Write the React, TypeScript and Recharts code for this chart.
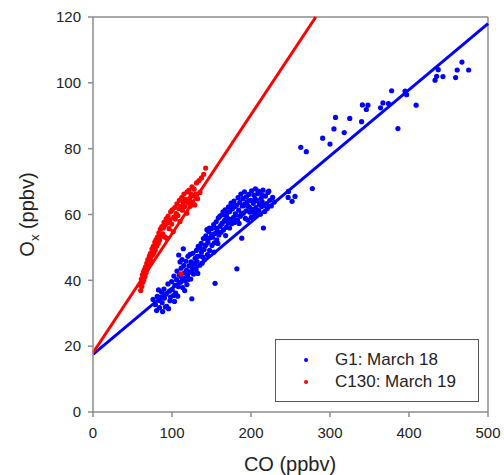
import React from 'react';
import { ScatterChart, Scatter, XAxis, YAxis, ReferenceLine, Legend, Label } from 'recharts';

// CO (ppbv), Ox (ppbv) pairs
const g1Points: [number, number][] = [
  [76, 34.2], [79, 32.6], [80.5, 30.8], [81.3, 35.1], [83.7, 33.9], [84.2, 31.7], [86.9, 36.4], [87.5, 33.2], [88.1, 30.5], [89.8, 37.3],
  [90.4, 34.6], [92.7, 35.8], [93.3, 32.1], [94.9, 38.9], [95.6, 31.4], [96.8, 36.7], [98.2, 34.9], [99.5, 39.6], [100.3, 37.2], [101.9, 35.4],
  [102.4, 41.3], [103.8, 38.5], [104.6, 36.1], [105.7, 40.2], [106.3, 42.8], [107.9, 38.1], [108.5, 47.7], [109.2, 41.6], [110.8, 39.4], [111.6, 43.7],
  [112.1, 40.9], [113.4, 37.8], [114.3, 49.6], [114.9, 44.5], [115.7, 42.2], [116.5, 39.9], [117.8, 45.8], [118.4, 43.1], [119.6, 41.5], [120.2, 47.3],
  [121.5, 44.4], [122.9, 47.9], [122.3, 42.6], [123.7, 40.4], [124.2, 45.6], [125.1, 34.4], [125.8, 43.8], [126.4, 48.2], [127.3, 41.9], [128.8, 44.9],
  [129.2, 46.7], [130.5, 43.3], [130.9, 49.1], [131.8, 45.7], [132.6, 42.1], [133.2, 50.3], [134.7, 47.4], [135.3, 44.6], [136.9, 51.2], [137.4, 48.6],
  [138.1, 45.2], [139.7, 52.7], [140.6, 49.4], [141.2, 46.3], [142.8, 53.5], [143.1, 50.8], [144.2, 55.4], [144.9, 47.8], [145.5, 51.6], [146.3, 54.8],
  [147.7, 49.1], [148.4, 52.9], [149.9, 55.7], [150.5, 50.6], [151.3, 53.1], [152.8, 56.9], [153.6, 51.4], [154.1, 54.2], [154.5, 39.1], [155.9, 57.8],
  [156.7, 52.3], [157.2, 55.1], [158.6, 58.9], [159.3, 53.8], [160.8, 56.4], [161.4, 59.7], [162.2, 54.6], [163.9, 57.5], [164.5, 60.8], [165.1, 55.3],
  [166.6, 58.2], [167.3, 61.4], [168.7, 56.1], [169.2, 59.3], [170.8, 57.4], [171.5, 62.3], [172.4, 58.6], [173.1, 60.9], [174.7, 63.5], [175.6, 57.2],
  [176.3, 61.7], [177.9, 59.1], [178.4, 64.1], [179.7, 62.4], [180.2, 60.2], [181.5, 62.8], [182.1, 43.5], [182.9, 58.4], [183.6, 65.1], [184.4, 61.3],
  [185.8, 63.7], [186.5, 59.5], [187.2, 66.2], [188.3, 52.8], [188.9, 62.6], [189.6, 64.8], [190.3, 60.4], [191.7, 66.9], [192.4, 63.2], [193.8, 61.1],
  [194.2, 65.4], [195.9, 58.3], [196.6, 62.5], [197.1, 66.1], [198.7, 60.7], [199.4, 64.3], [200.8, 67.2], [201.2, 61.6], [202.9, 63.4], [203.5, 65.9],
  [204.3, 59.6], [205.6, 67.8], [206.2, 62.1], [207.7, 64.2], [208.4, 66.3], [209.9, 61.2], [210.6, 63.1], [211.3, 66.8], [212.8, 64.9], [213.5, 62.4],
  [214.1, 63.9], [215.7, 55.9], [215.2, 67.4], [216.6, 62.8], [218.3, 65.6], [219.9, 63.3], [221.4, 66.7], [222.5, 67.1], [223.8, 64.3], [225.7, 62.6],
  [227.4, 65.2], [229.6, 63.8], [118.9, 38.7], [121.1, 40.3], [126.9, 45.1], [132.1, 47.3], [135.8, 49.8], [138.9, 47.1], [141.8, 50.5], [145.1, 52.4],
  [147.3, 55.9], [150.1, 53.9], [153.2, 48.6], [156.1, 55.8], [158.1, 51.2], [160.2, 59.4], [162.9, 57.1], [165.8, 59.9], [167.9, 53.6], [170.1, 60.6],
  [172.9, 55.9], [174.2, 58.1], [176.8, 62.9], [179.1, 57.6], [181.1, 59.9], [184.9, 57.3], [187.8, 60.1], [190.9, 62.7], [192.9, 58.8], [195.3, 63.9],
  [198.1, 62.2], [200.3, 59.1], [203.1, 60.8], [205.1, 64.8], [207.2, 60.6], [209.2, 67.1], [211.9, 60.1], [214.8, 65.8], [217.4, 60.9], [220.6, 61.8],
  [82.9, 37.1], [85.6, 34.8], [91.6, 31.9], [97.4, 33.8], [103.1, 33.6], [107.2, 35.2], [110.2, 45.6], [116.1, 36.9], [112.7, 46.3],
  [247, 65.2], [247.5, 67], [252, 64], [255.7, 65.5], [263, 80.4], [270, 79.1], [277.6, 67.9], [290.7, 83.2], [300, 81.4], [305, 86],
  [307, 89.5], [318, 84.9], [325, 89.2], [340, 88.2], [341, 93.3], [346, 91.9], [348, 93.2], [364, 92.4], [367, 93.9], [374, 93.7],
  [378, 97.6], [386, 86.1], [395, 97.5], [397, 96.4], [409, 93.2], [433, 100.8], [435, 102], [437, 104], [443, 101.9], [459, 101.6],
  [461, 103.9], [467, 106.3], [475.5, 103.9],
];

const c130Points: [number, number][] = [
  [59.6, 38.6], [60.3, 36.9], [61.2, 40.4], [61.8, 38.1], [62.5, 41.7], [63.1, 39.4], [63.9, 42.6], [64.4, 40.1], [65.2, 43.3], [65.8, 41.2],
  [66.5, 44.1], [67.3, 42.4], [68.1, 45.2], [68.6, 43.5], [69.4, 46.3], [70.2, 44.7], [71.3, 47.4], [71.9, 45.3], [72.8, 48.2], [73.5, 46.1],
  [74.6, 49.5], [75.3, 47.6], [76.2, 50.3], [77.1, 48.4], [78.3, 51.6], [78.9, 49.2], [79.8, 52.3], [80.7, 50.4], [81.6, 53.1], [82.5, 51.3],
  [83.4, 54.4], [84.1, 52.2], [85.2, 55.6], [86.3, 53.4], [87.1, 56.3], [88.2, 54.1], [89.1, 55.9], [89.9, 57.6], [90.8, 53.2], [91.5, 56.8],
  [92.6, 58.7], [93.3, 52.8], [94.2, 57.4], [95.1, 59.5], [96.4, 55.7], [97.5, 58.4], [98.3, 60.8], [99.6, 57.1], [100.4, 61.4], [101.6, 54.8],
  [102.2, 59.2], [103.5, 62.1], [104.1, 58.6], [105.3, 60.3], [106.2, 63.2], [107.4, 59.7], [108.6, 61.8], [109.3, 64.3], [110.1, 57.9], [110.9, 62.5],
  [111.2, 42.0], [112.3, 65.1], [113.2, 61.3], [114.4, 63.7], [115.1, 66.2], [116.3, 62.4], [117.2, 64.6], [118.6, 60.4], [119.1, 66.9], [120.6, 63.6],
  [121.3, 67.3], [122.4, 64.9], [123.1, 62.5], [124.2, 66.1], [125.3, 68.4], [126.1, 63.8], [127.2, 65.7], [127.9, 67.7], [128.8, 62.9], [130.2, 66.2],
  [131, 69.6], [132.3, 64.8], [134.1, 70.3], [135.4, 66.7], [137.2, 71.1], [140.1, 72.2], [142.6, 74.1],
];

// least-squares lines as drawn in the figure
const g1Fit = [{ x: 0, y: 17.5 }, { x: 500, y: 118 }];
const c130Fit = [{ x: 0, y: 18 }, { x: 282, y: 120 }];

const xTicks = [0, 100, 200, 300, 400, 500];
const yTicks = [0, 20, 40, 60, 80, 100, 120];

const BLUE = '#0000ff';
const RED = '#ff0000';
const AXIS = '#8c8c8c';
const FONT = '"Liberation Sans", Arial, sans-serif';

const toRows = (pts: [number, number][]) => pts.map(([x, y]) => ({ x, y }));

const Dot = (props: any) => <circle cx={props.cx} cy={props.cy} r={2.6} fill={props.fill} />;

const legendItems = [
  { label: 'G1: March 18', color: BLUE },
  { label: 'C130: March 19', color: RED },
];

const renderLegend = () => (
  <div
    style={{
      position: 'relative',
      width: 204,
      height: 63,
      border: '1px solid #555',
      boxSizing: 'border-box',
      background: '#fff',
      fontFamily: FONT,
      fontSize: 17,
      color: '#222',
    }}
  >
    {legendItems.map((item, i) => (
      <div key={item.label} style={{ position: 'absolute', left: 0, top: 9 + i * 22, height: 22, lineHeight: '22px', width: '100%' }}>
        <span
          style={{
            position: 'absolute',
            left: 28,
            top: 9,
            width: 4,
            height: 4,
            borderRadius: 2,
            background: item.color,
          }}
        />
        <span style={{ position: 'absolute', left: 59, top: 0, whiteSpace: 'nowrap' }}>{item.label}</span>
      </div>
    ))}
  </div>
);

const tickStyle = { fontFamily: FONT, fontSize: 15, fill: '#222' };

export default function App() {
  return (
    <div style={{ position: 'absolute', left: 0, top: 0, background: '#fff' }}>
      <ScatterChart width={504} height={475} margin={{ top: 17, right: 16, bottom: 0, left: 0 }}>
        <XAxis
          type="number"
          dataKey="x"
          domain={[0, 500]}
          ticks={xTicks}
          height={63}
          stroke={AXIS}
          strokeWidth={1.5}
          tickSize={5}
          tickMargin={10}
          tick={tickStyle}
          tickLine={{ stroke: AXIS }}
        >
          <Label
            content={() => (
              <text x={290} y={471} textAnchor="middle" fontFamily={FONT} fontSize={20} fill="#222">
                CO (ppbv)
              </text>
            )}
          />
        </XAxis>
        <YAxis
          type="number"
          dataKey="y"
          domain={[0, 120]}
          ticks={yTicks}
          width={93}
          stroke={AXIS}
          strokeWidth={1.5}
          tickSize={5}
          tickMargin={7}
          tick={tickStyle}
          tickLine={{ stroke: AXIS }}
        >
          <Label
            content={(p: any) => {
              const cy = p.viewBox ? p.viewBox.y + p.viewBox.height / 2 : 215;
              return (
                <text
                  x={0}
                  y={0}
                  transform={`translate(34, ${cy}) rotate(-90)`}
                  textAnchor="middle"
                  fontFamily={FONT}
                  fontSize={20}
                  fill="#222"
                >
                  <tspan>O</tspan>
                  <tspan fontSize={13} dy={5}>x</tspan>
                  <tspan dy={-5}> (ppbv)</tspan>
                </text>
              );
            }}
          />
        </YAxis>
        <ReferenceLine y={120} stroke={AXIS} strokeWidth={1.5} ifOverflow="visible" />
        <ReferenceLine x={500} stroke={AXIS} strokeWidth={1.5} ifOverflow="visible" />
        <Scatter name="G1: March 18" data={toRows(g1Points)} fill={BLUE} shape={Dot} isAnimationActive={false} />
        <Scatter name="C130: March 19" data={toRows(c130Points)} fill={RED} shape={Dot} isAnimationActive={false} />
        <ReferenceLine segment={g1Fit} stroke={BLUE} strokeWidth={3} ifOverflow="visible" />
        <ReferenceLine segment={c130Fit} stroke={RED} strokeWidth={3} ifOverflow="visible" />
        <Legend
          layout="horizontal"
          verticalAlign="middle"
          align="center"
          content={renderLegend}
          wrapperStyle={{ position: 'absolute', left: 275, top: 339, width: 204, height: 63 }}
        />
      </ScatterChart>
    </div>
  );
}
